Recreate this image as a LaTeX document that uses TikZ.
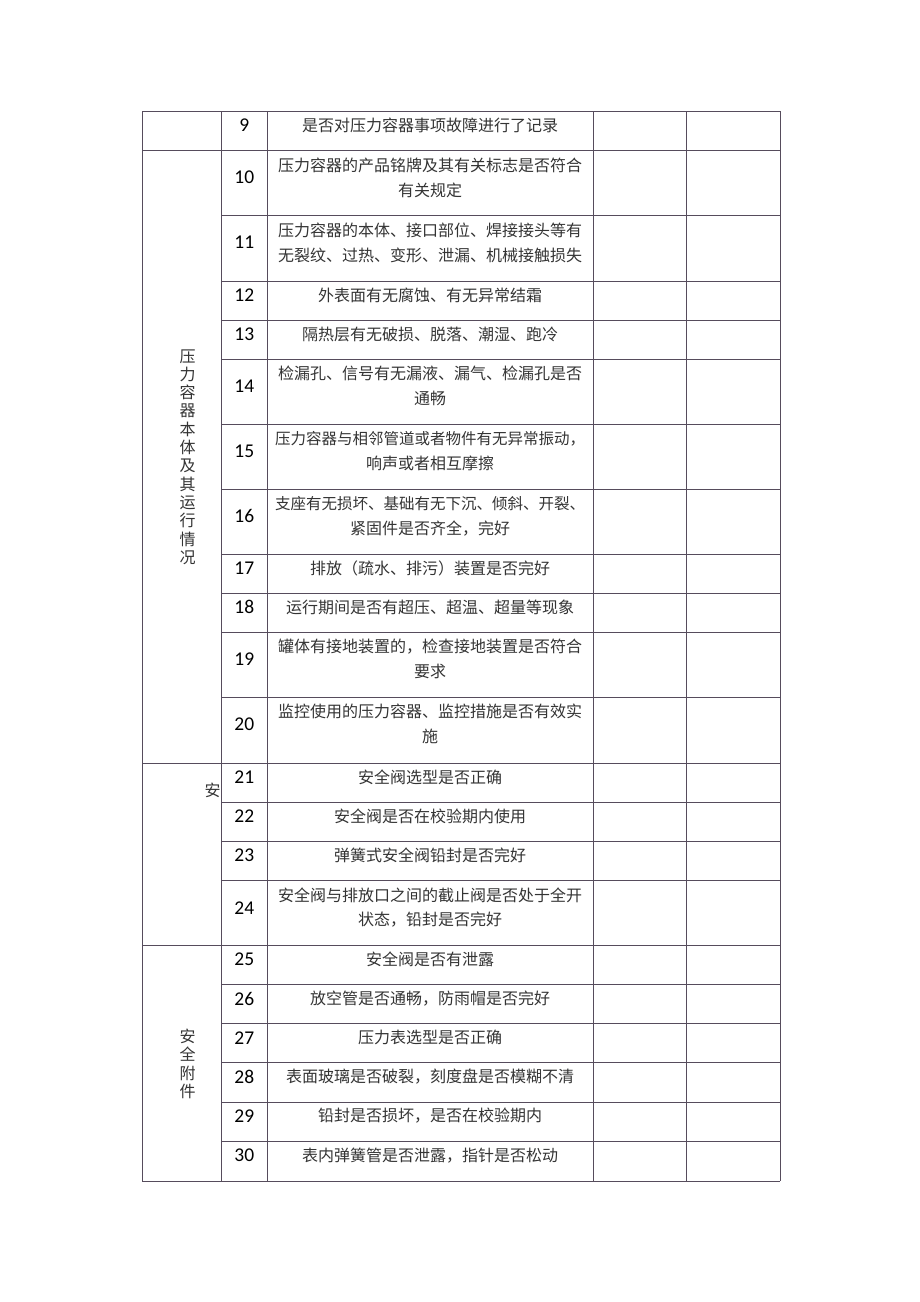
\documentclass[tikz,border=0pt]{standalone}
\usepackage{fontspec}
\setmainfont{Carlito}
\newfontfamily\cjk{Noto Sans CJK SC}
\definecolor{rulecol}{RGB}{86,76,92}
\definecolor{inkcol}{RGB}{52,52,52}
\tikzset{
  gridline/.style={draw=rulecol, line width=1pt},
  numtxt/.style={inner sep=0pt, anchor=center, font=\fontsize{19.5}{22}\selectfont, text=black},
  celltxt/.style={inner sep=0pt, anchor=center, font=\cjk\fontsize{16}{20}\selectfont, text=inkcol},
  vtxt/.style={inner sep=0pt, anchor=center, align=center, font=\cjk\fontsize{16}{18.3}\selectfont, text=inkcol}
}
\newcommand\rowone[4]{% num, top, bottom, text
  \node[numtxt] (n#1) at (244.3,{#2+14}) {#1};
  \node[celltxt] (t#1) at (430,{#2+14}) {#4};
  \draw[gridline] (221.7,#3) -- (780,#3);
}
\newcommand\rowtwo[5]{% num, top, bottom, line1, line2
  \node[numtxt] (n#1) at (244.3,{#2+27}) {#1};
  \node[celltxt] (t#1a) at (430,{#2+14.3}) {#4};
  \node[celltxt] (t#1b) at (430,{#2+39.3}) {#5};
  \draw[gridline] (221.7,#3) -- (780,#3);
}
\newcommand\tight[1]{{\fontsize{15.5}{20}\selectfont #1}}
\begin{document}
\begin{tikzpicture}[x=1pt,y=-1pt]
\useasboundingbox[fill=white] (0,0) rectangle (920,1302);
% rows
\rowone{9}{111}{150.7}{是否对压力容器事项故障进行了记录}
\rowtwo{10}{150.7}{215.7}{压力容器的产品铭牌及其有关标志是否符合}{有关规定}
\rowtwo{11}{215.7}{281}{压力容器的本体、接口部位、焊接接头等有}{无裂纹、过热、变形、泄漏、机械接触损失}
\rowone{12}{281}{320}{外表面有无腐蚀、有无异常结霜}
\rowone{13}{320}{359}{隔热层有无破损、脱落、潮湿、跑冷}
\rowtwo{14}{359}{424}{检漏孔、信号有无漏液、漏气、检漏孔是否}{通畅}
\rowtwo{15}{424}{489}{\tight{压力容器与相邻管道或者物件有无异常振动，}}{响声或者相互摩擦}
\rowtwo{16}{489}{554}{\tight{支座有无损坏、基础有无下沉、倾斜、开裂、}}{紧固件是否齐全，完好}
\rowone{17}{554}{593}{排放（疏水、排污）装置是否完好}
\rowone{18}{593}{632}{运行期间是否有超压、超温、超量等现象}
\rowtwo{19}{632}{697}{罐体有接地装置的，检查接地装置是否符合}{要求}
\rowtwo{20}{697}{763.3}{监控使用的压力容器、监控措施是否有效实}{施}
\rowone{21}{763.3}{802.3}{安全阀选型是否正确}
\rowone{22}{802.3}{841.5}{安全阀是否在校验期内使用}
\rowone{23}{841.5}{880.7}{弹簧式安全阀铅封是否完好}
\rowtwo{24}{880.7}{945.7}{安全阀与排放口之间的截止阀是否处于全开}{状态，铅封是否完好}
\rowone{25}{945.7}{984.7}{安全阀是否有泄露}
\rowone{26}{984.7}{1023.7}{放空管是否通畅，防雨帽是否完好}
\rowone{27}{1023.7}{1062.7}{压力表选型是否正确}
\rowone{28}{1062.7}{1102}{表面玻璃是否破裂，刻度盘是否模糊不清}
\rowone{29}{1102}{1141.5}{铅封是否损坏，是否在校验期内}
\rowone{30}{1141.5}{1181}{表内弹簧管是否泄露，指针是否松动}
% group boundaries (full width)
\foreach \yy in {111,150.7,763.3,945.7,1181}
  \draw[gridline] (142,\yy) -- (780,\yy);
% vertical lines
\foreach \xx in {142,221.7,267,593,686,780}
  \draw[gridline] (\xx,111) -- (\xx,1181);
% group labels
\node[vtxt] (g1) at (187.5,457) {压\\力\\容\\器\\本\\体\\及\\其\\运\\行\\情\\况};
\node[vtxt] (g2) at (212.5,790) {安};
\node[vtxt] (g3) at (187.5,1064) {安\\全\\附\\件};
\end{tikzpicture}
\end{document}
